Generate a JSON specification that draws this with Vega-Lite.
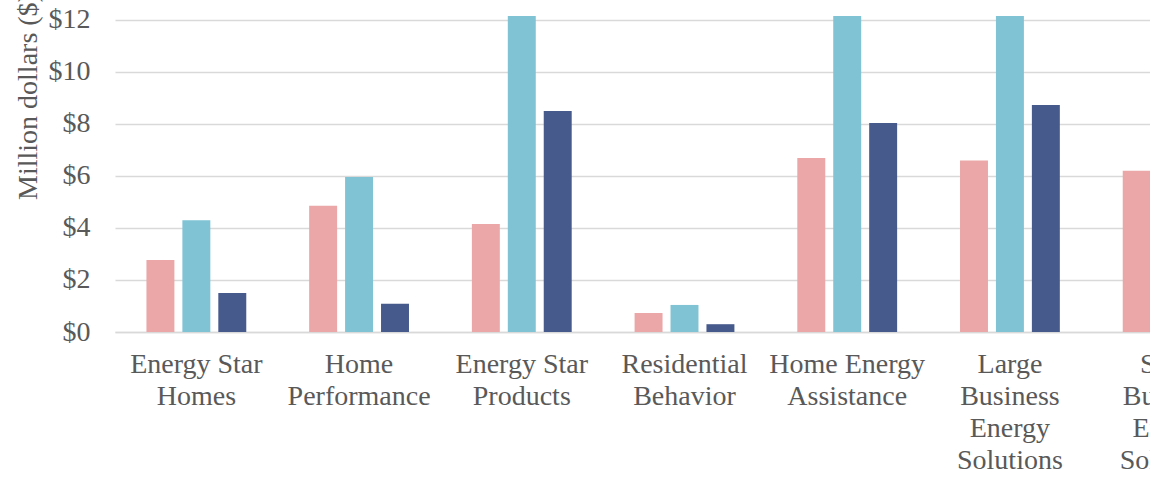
{
  "$schema": "https://vega.github.io/schema/vega-lite/v6.json",
  "autosize": {"type": "none"},
  "padding": {"left": 115, "top": 16, "right": 0, "bottom": 150},
  "width": 1035,
  "height": 316,
  "background": "white",
  "data": {
    "values": [
      {"program": "Energy Star Homes", "series": "Series 1", "value": 2.77},
      {"program": "Energy Star Homes", "series": "Series 2", "value": 4.3},
      {"program": "Energy Star Homes", "series": "Series 3", "value": 1.5},
      {"program": "Home Performance", "series": "Series 1", "value": 4.85},
      {"program": "Home Performance", "series": "Series 2", "value": 5.96},
      {"program": "Home Performance", "series": "Series 3", "value": 1.09},
      {"program": "Energy Star Products", "series": "Series 1", "value": 4.15},
      {"program": "Energy Star Products", "series": "Series 2", "value": 15},
      {"program": "Energy Star Products", "series": "Series 3", "value": 8.5},
      {"program": "Residential Behavior", "series": "Series 1", "value": 0.73},
      {"program": "Residential Behavior", "series": "Series 2", "value": 1.04},
      {"program": "Residential Behavior", "series": "Series 3", "value": 0.3},
      {"program": "Home Energy Assistance", "series": "Series 1", "value": 6.69},
      {"program": "Home Energy Assistance", "series": "Series 2", "value": 15},
      {"program": "Home Energy Assistance", "series": "Series 3", "value": 8.04},
      {"program": "Large Business Energy Solutions", "series": "Series 1", "value": 6.59},
      {"program": "Large Business Energy Solutions", "series": "Series 2", "value": 15},
      {"program": "Large Business Energy Solutions", "series": "Series 3", "value": 8.73},
      {"program": "Small Business Energy Solutions", "series": "Series 1", "value": 6.2}
    ]
  },
  "mark": {"type": "bar", "clip": true},
  "encoding": {
    "x": {
      "field": "program",
      "type": "nominal",
      "sort": null,
      "scale": {"range": [0, 1139], "paddingInner": 0, "paddingOuter": 0},
      "axis": {
        "title": null,
        "labelAngle": 0,
        "labelFont": "Liberation Serif",
        "labelFontSize": 28,
        "labelColor": "#595959",
        "labelLineHeight": 32,
        "labelPadding": 18,
        "labelLimit": 0,
        "labelOverlap": false,
        "ticks": false,
        "domain": true,
        "domainColor": "#D9D9D9",
        "domainWidth": 1.5,
        "grid": false,
        "labelExpr": "datum.value == 'Energy Star Homes' ? ['Energy Star', 'Homes'] : datum.value == 'Home Performance' ? ['Home', 'Performance'] : datum.value == 'Energy Star Products' ? ['Energy Star', 'Products'] : datum.value == 'Residential Behavior' ? ['Residential', 'Behavior'] : datum.value == 'Home Energy Assistance' ? ['Home Energy', 'Assistance'] : datum.value == 'Large Business Energy Solutions' ? ['Large', 'Business', 'Energy', 'Solutions'] : ['Small', 'Business', 'Energy', 'Solutions']"
      }
    },
    "xOffset": {
      "field": "series",
      "type": "nominal",
      "scale": {"paddingInner": 0.222, "paddingOuter": 0.875}
    },
    "y": {
      "field": "value",
      "type": "quantitative",
      "scale": {"domain": [0, 12.15], "nice": false},
      "axis": {
        "title": "Million dollars ($)",
        "titleFont": "Liberation Serif",
        "titleFontSize": 28,
        "titleFontWeight": "normal",
        "titleColor": "#595959",
        "titleAngle": 270,
        "titleAlign": "center",
        "titleBaseline": "middle",
        "titleX": -87,
        "titleY": 80,
        "values": [0, 2, 4, 6, 8, 10, 12],
        "labelExpr": "'$' + datum.value",
        "labelFont": "Liberation Serif",
        "labelFontSize": 28,
        "labelColor": "#595959",
        "labelPadding": 25,
        "ticks": false,
        "domain": false,
        "grid": true,
        "gridColor": "#D9D9D9",
        "gridWidth": 1.5
      }
    },
    "color": {
      "field": "series",
      "type": "nominal",
      "scale": {"domain": ["Series 1", "Series 2", "Series 3"], "range": ["#EBA7A8", "#7FC3D4", "#475A8C"]},
      "legend": null
    }
  },
  "config": {"view": {"stroke": null}}
}
